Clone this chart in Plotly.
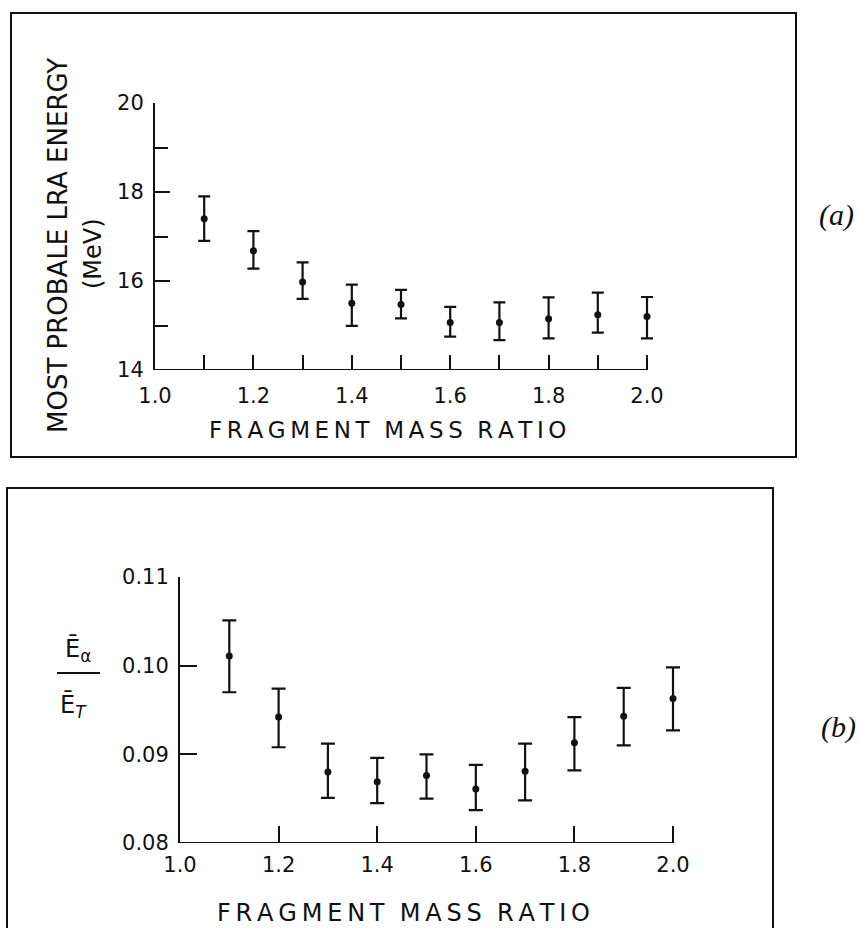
import plotly.graph_objects as go

# ---------------- data ----------------
mass_ratio = [1.1, 1.2, 1.3, 1.4, 1.5, 1.6, 1.7, 1.8, 1.9, 2.0]

# panel (a): most probable LRA energy (MeV)
lra_energy = [17.40, 16.68, 15.98, 15.50, 15.47, 15.07, 15.07, 15.15, 15.24, 15.20]
lra_upper = [17.90, 17.12, 16.42, 15.92, 15.80, 15.42, 15.52, 15.63, 15.74, 15.64]
lra_lower = [16.90, 16.28, 15.60, 14.99, 15.16, 14.75, 14.67, 14.71, 14.84, 14.71]

# panel (b): E_alpha / E_T
ratio_val = [0.1011, 0.0942, 0.0880, 0.0869, 0.0876, 0.0861, 0.0881, 0.0913, 0.0943, 0.0963]
ratio_upper = [0.1051, 0.0974, 0.0912, 0.0896, 0.0900, 0.0888, 0.0912, 0.0942, 0.0975, 0.0998]
ratio_lower = [0.0970, 0.0908, 0.0851, 0.0845, 0.0850, 0.0837, 0.0848, 0.0882, 0.0910, 0.0927]

x_tickvals = [1.0, 1.2, 1.4, 1.6, 1.8, 2.0]
x_ticktext = ["1.0", "1.2", "1.4", "1.6", "1.8", "2.0"]
ya_tickvals = [14, 16, 18, 20]
ya_ticktext = ["14", "16", "18", "20"]
yb_tickvals = [0.08, 0.09, 0.10, 0.11]
yb_ticktext = ["0.08", "0.09", "0.10", "0.11"]

X_MIN, X_MAX = 1.0, 2.0
X_PAD = 0.03  # small headroom so the last error bar caps are not clipped

# ---------------- layout helpers ----------------
W, H = 859, 928
def px(x):
    return x / W
def py(y):
    return 1 - y / H

INK = "#111111"
FONT = "DejaVu Sans"

def spaced(s):
    return "\u2009".join(s)

fig = go.Figure()

err_a_plus = [u - v for u, v in zip(lra_upper, lra_energy)]
err_a_minus = [v - l for v, l in zip(lra_energy, lra_lower)]
err_b_plus = [u - v for u, v in zip(ratio_upper, ratio_val)]
err_b_minus = [v - l for v, l in zip(ratio_val, ratio_lower)]

fig.add_trace(go.Scatter(
    x=mass_ratio, y=lra_energy, mode="markers",
    marker=dict(color=INK, size=7),
    error_y=dict(type="data", symmetric=False, array=err_a_plus, arrayminus=err_a_minus,
                 color=INK, thickness=2.2, width=6),
    xaxis="x", yaxis="y", cliponaxis=False,
))
fig.add_trace(go.Scatter(
    x=mass_ratio, y=ratio_val, mode="markers",
    marker=dict(color=INK, size=7),
    error_y=dict(type="data", symmetric=False, array=err_b_plus, arrayminus=err_b_minus,
                 color=INK, thickness=2.2, width=7),
    xaxis="x2", yaxis="y2", cliponaxis=False,
))

axis_common = dict(showgrid=False, zeroline=False, linecolor=INK, linewidth=2,
                   ticks="inside", tickcolor=INK, tickwidth=2, mirror=False, automargin=False,
                   tickfont=dict(family=FONT, size=21, color=INK))

# pixel positions of x=1.0 and x=2.0 in each panel
a_x0, a_x1 = 155, 647
b_x0, b_x1 = 180, 673
a_dom_end = a_x0 + (a_x1 - a_x0) * (X_MAX + X_PAD - X_MIN) / (X_MAX - X_MIN)
b_dom_end = b_x0 + (b_x1 - b_x0) * (X_MAX + X_PAD - X_MIN) / (X_MAX - X_MIN)

fig.update_layout(
    width=W, height=H, margin=dict(l=0, r=0, t=0, b=0, autoexpand=False),
    paper_bgcolor="white", plot_bgcolor="white", showlegend=False,
    xaxis=dict(domain=[px(a_x0), px(a_dom_end)], range=[X_MIN, X_MAX + X_PAD], anchor="y",
               showline=False,
               tickvals=x_tickvals, ticktext=x_ticktext, ticklen=15,
               ticklabelstandoff=11,
               minor=dict(dtick=0.1, tick0=1.0, ticks="inside", ticklen=15, tickcolor=INK, tickwidth=2),
               **axis_common),
    yaxis=dict(domain=[py(370), py(103)], range=[14, 20], anchor="x", showline=True,
               tickvals=ya_tickvals, ticktext=ya_ticktext, ticklen=15,
               ticklabelstandoff=5,
               minor=dict(dtick=1, tick0=14, ticks="inside", ticklen=13, tickcolor=INK, tickwidth=2),
               **axis_common),
    xaxis2=dict(domain=[px(b_x0), px(b_dom_end)], range=[X_MIN, X_MAX + X_PAD], anchor="y2",
                showline=False,
                tickvals=x_tickvals, ticktext=x_ticktext, ticklen=17,
                ticklabelstandoff=7,
                **axis_common),
    yaxis2=dict(domain=[py(843), py(577)], range=[0.08, 0.11], anchor="x2", showline=True,
                tickvals=yb_tickvals, ticktext=yb_ticktext, ticklen=17,
                ticklabelstandoff=5,
                **axis_common),
)

# x axis baselines that stop at 2.0
fig.add_shape(type="line", xref="x", yref="y", x0=X_MIN, x1=X_MAX, y0=14, y1=14,
              line=dict(color=INK, width=2))
fig.add_shape(type="line", xref="x2", yref="y2", x0=X_MIN, x1=X_MAX, y0=0.08, y1=0.08,
              line=dict(color=INK, width=2))

# frames around both panels
fig.add_shape(type="rect", xref="paper", yref="paper",
              x0=px(11), x1=px(796), y0=py(457), y1=py(13),
              line=dict(color=INK, width=2), layer="below")
fig.add_shape(type="rect", xref="paper", yref="paper",
              x0=px(7), x1=px(773), y0=py(940), y1=py(488),
              line=dict(color=INK, width=2), layer="below")
# fraction bar for E_alpha / E_T
fig.add_shape(type="line", xref="paper", yref="paper",
              x0=px(57), x1=px(100), y0=py(673), y1=py(673),
              line=dict(color=INK, width=2))

def ann(text, x, y, size, angle=0, family=FONT, xanchor="center"):
    fig.add_annotation(text=text, x=px(x), y=py(y), xref="paper", yref="paper",
                       showarrow=False, textangle=angle, xanchor=xanchor, yanchor="middle",
                       font=dict(family=family, size=size, color=INK))

# panel (a) titles
ann("MOST PROBALE LRA ENERGY", 58, 246, 26, angle=-90)
ann("(MeV)", 93, 254, 24, angle=-90)
ann(spaced("FRAGMENT") + "  " + spaced("MASS") + "  " + spaced("RATIO"), 387, 430, 23)
ann("<i>(a)</i>", 836, 215, 30, family="Liberation Serif")

# panel (b) titles
ann("Ē<sub>α</sub>", 78, 650, 24)
ann("Ē<sub><i>T</i></sub>", 73, 706, 24)
ann(spaced("FRAGMENT") + "  " + spaced("MASS") + "  " + spaced("RATIO"), 403, 913, 24)
ann("<i>(b)</i>", 838, 727, 30, family="Liberation Serif")

fig.write_html("out.html")
